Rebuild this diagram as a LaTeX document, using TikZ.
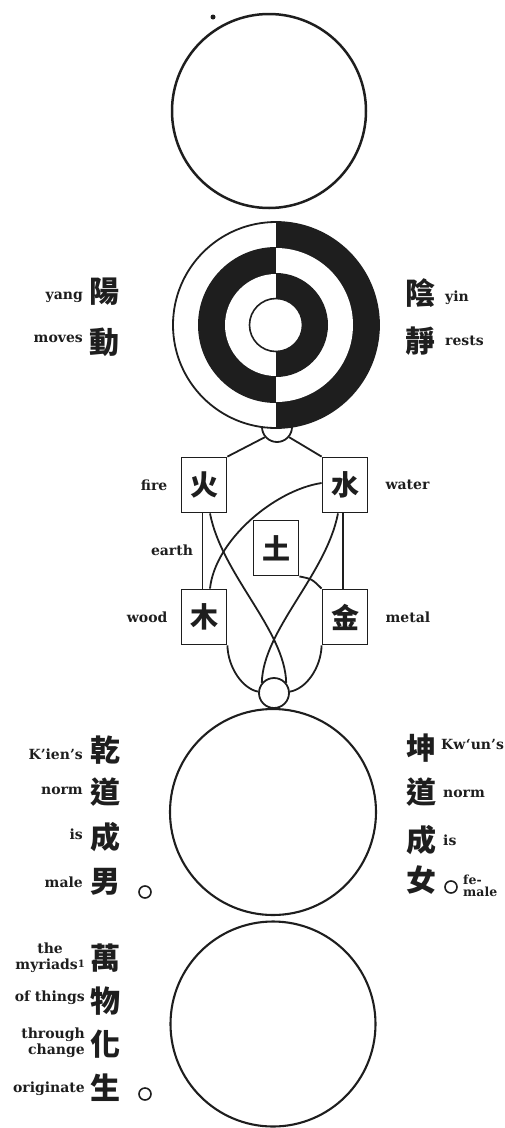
\documentclass[tikz,border=0pt]{standalone}
\usepackage{fontspec}
\setmainfont{DejaVu Serif}
\newfontfamily\hanzifont{Noto Sans CJK TC}
\usepackage{tikz}
\usetikzlibrary{positioning,calc}
\definecolor{taijiInk}{HTML}{1E1E1E}

\tikzset{
  hanzi/.style={font=\hanzifont\bfseries\fontsize{30}{30}\selectfont,text=taijiInk,inner sep=0pt},
  gloss/.style={font=\bfseries\fontsize{14}{16}\selectfont,text=taijiInk,inner sep=0pt},
  smallgloss/.style={gloss,font=\bfseries\fontsize{12.5}{12}\selectfont,align=left},
  elembox/.style={draw=taijiInk,line width=1.8pt,minimum width=45pt,minimum height=55pt,inner sep=0pt,
    font=\hanzifont\bfseries\fontsize{28}{28}\selectfont,text=taijiInk},
  bigring/.style={circle,draw=taijiInk,line width=2.1pt,inner sep=0pt},
  knot/.style={circle,draw=taijiInk,line width=1.8pt,fill=white,minimum size=30pt,inner sep=0pt},
  stopring/.style={circle,draw=taijiInk,line width=1.6pt,minimum size=12pt,inner sep=0pt},
  wire/.style={draw=taijiInk,line width=1.8pt}
}

\begin{document}
\begin{tikzpicture}[x=1pt,y=-1pt]
  \useasboundingbox (0,0) rectangle (504,1128);
  \fill[taijiInk] (213,17) circle (2.5pt);
  \node[bigring,line width=2.5pt,minimum size=194pt] (wuji) at (269,111) {};

  \node[knot] (topknot) at (277,427) {};
  \coordinate (taiji) at (276,325);
  \begin{scope}
    \clip (160,215) rectangle (276,435);
    \fill[white] (taiji) circle (103pt);
    \fill[taijiInk] (taiji) circle (78pt);
    \fill[white] (taiji) circle (51pt);
  \end{scope}
  \begin{scope}
    \clip (276,215) rectangle (392,435);
    \fill[taijiInk] (taiji) circle (103pt);
    \fill[white] (taiji) circle (77pt);
    \fill[taijiInk] (taiji) circle (52pt);
    \fill[white] (taiji) circle (26.5pt);
  \end{scope}
  \draw[taijiInk,line width=1.8pt] (taiji) circle (103pt);
  \draw[taijiInk,line width=1.6pt] (taiji) circle (26.5pt);

  \node[hanzi] (yang) at (104,292) {陽};
  \node[hanzi] (dong) at (104,342) {動};
  \node[hanzi] (yin) at (420,293) {陰};
  \node[hanzi] (jing) at (420,341) {靜};
  \node[gloss,anchor=east] (yangGloss) at (83,297) {yang};
  \node[gloss,anchor=east] (dongGloss) at (83,339) {moves};
  \node[gloss,anchor=west] (yinGloss) at (445,298) {yin};
  \node[gloss,anchor=west] (jingGloss) at (445,341) {rests};

  \node[elembox] (fire) at (204,485) {火};
  \node[elembox] (water) at (345,485) {水};
  \node[elembox] (earth) at (276,548) {土};
  \node[elembox] (wood) at (204,617) {木};
  \node[elembox] (metal) at (345,617) {金};
  \node[gloss,left=13pt of fire] (fireGloss) {fire};
  \node[gloss,right=17pt of water] (waterGloss) {water};
  \node[gloss] (earthGloss) at (172,550) {earth};
  \node[gloss,left=13pt of wood] (woodGloss) {wood};
  \node[gloss,right=17pt of metal] (metalGloss) {metal};

  \node[bigring,minimum size=206pt] (qiankun) at (273,812) {};
  \node[knot] (botknot) at (274,693) {};

  \draw[wire] (topknot.220) -- (fire.north east);
  \draw[wire] (topknot.320) -- (water.north west);
  \draw[wire] ([xshift=-1.5pt]fire.south) -- ([xshift=-1.5pt]wood.north);
  \draw[wire] ([xshift=-2pt]water.south) -- ([xshift=-2pt]metal.north);
  \draw[wire] ([yshift=2pt]water.west) .. controls (275,490) and (215,540) .. ([xshift=6pt]wood.north);
  \draw[wire] (earth.south east) .. controls (312,579) .. (metal.north west);
  \draw[wire] ([xshift=6pt]fire.south) .. controls (222,575) and (285,630) .. (botknot.40);
  \draw[wire] ([xshift=-7pt]water.south) .. controls (326,575) and (263,630) .. (botknot.140);
  \draw[wire] (wood.south east) .. controls (228,668) and (243,689) .. (botknot.175);
  \draw[wire] (metal.south west) .. controls (321,668) and (306,689) .. (botknot.5);

  \node[hanzi] (qian) at (105,750) {乾};
  \node[hanzi] (qianDao) at (105,792) {道};
  \node[hanzi] (qianCheng) at (105,837) {成};
  \node[hanzi] (nan) at (105,882) {男};
  \node[stopring] (nanStop) at (145,892) {};
  \node[gloss,anchor=east] (qianGloss) at (83,754) {K’ien’s};
  \node[gloss,anchor=east] (qianDaoGloss) at (83,791) {norm};
  \node[gloss,anchor=east] (qianChengGloss) at (83,834) {is};
  \node[gloss,anchor=east] (nanGloss) at (83,882) {male};

  \node[hanzi] (kun) at (421,748) {坤};
  \node[hanzi] (kunDao) at (421,792) {道};
  \node[hanzi] (kunCheng) at (421,840) {成};
  \node[hanzi] (nv) at (421,880) {女};
  \node[stopring] (nvStop) at (451,887) {};
  \node[gloss,anchor=west] (kunGloss) at (441,744) {Kw‘un’s};
  \node[gloss,anchor=west] (kunDaoGloss) at (443,794) {norm};
  \node[gloss,anchor=west] (kunChengGloss) at (443,840) {is};
  \node[smallgloss,anchor=west] (nvGloss) at (463,886) {fe-\\male};

  \node[bigring,minimum size=205pt] (wanwu) at (273,1024) {};
  \node[hanzi] (wan) at (105,958) {萬};
  \node[hanzi] (wu) at (105,1001) {物};
  \node[hanzi] (hua) at (105,1044) {化};
  \node[hanzi] (sheng) at (105,1088) {生};
  \node[stopring] (shengStop) at (145,1094) {};
  \node[gloss,anchor=east,align=center] (wanGloss) at (85,958) {the\\myriads\raisebox{2pt}{\fontsize{10}{10}\selectfont 1}};
  \node[gloss,anchor=east] (wuGloss) at (85,998) {of things};
  \node[gloss,anchor=east,align=right] (huaGloss) at (85,1043) {through\\change};
  \node[gloss,anchor=east] (shengGloss) at (85,1089) {originate};
\end{tikzpicture}
\end{document}
